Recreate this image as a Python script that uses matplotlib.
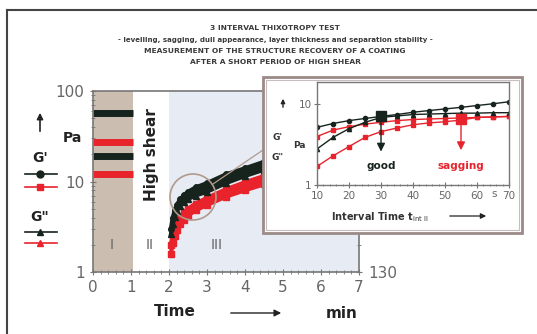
import matplotlib
matplotlib.use("Agg")
import matplotlib.pyplot as plt
from matplotlib.patches import Rectangle, Ellipse, FancyArrowPatch
from matplotlib.lines import Line2D

# ---- data -------------------------------------------------------------------
# interval I (rest): constant levels, Pa
lev_t = [0.0, 1.05]
lev_g1_black = 57
lev_g1_red = 27
lev_g2_black = 19
lev_g2_red = 12

# interval III (recovery), min / Pa
rec_t = [2.05, 2.1, 2.15, 2.2, 2.3, 2.4, 2.5, 2.7, 3.0, 3.5, 4.0, 4.5, 5.0, 6.0, 7.0]
rec_g1_black = [3.0, 4.0, 4.8, 5.5, 6.4, 7.1, 7.7, 8.6, 9.6, 12, 14, 16.5, 18, 20, 22]
rec_g2_black = [2.6, 3.4, 4.1, 4.7, 5.4, 6.0, 6.4, 7.0, 7.7, 9.6, 11.5, 13.5, 15, 17, 18]
rec_g1_red = [2.0, 2.6, 3.1, 3.5, 4.1, 4.6, 5.0, 5.7, 6.6, 8.2, 9.8, 11.5, 12.5, 14, 15]
rec_g2_red = [1.6, 2.1, 2.5, 2.9, 3.4, 3.8, 4.2, 4.8, 5.5, 6.8, 8.0, 9.3, 10.3, 11.5, 12.5]

# inset: G' at the G' = G'' crossover vs interval time
ins_t = [10, 15, 20, 25, 30, 35, 40, 45, 50, 55, 60, 65, 70]
ins_g1_black = [5.2, 5.8, 6.3, 6.7, 7.1, 7.5, 8.0, 8.4, 8.8, 9.2, 9.7, 10.2, 10.8]
ins_g2_black = [2.8, 3.9, 5.0, 6.0, 6.9, 7.2, 7.5, 7.6, 7.7, 7.8, 7.8, 7.9, 7.9]
ins_g1_red = [4.0, 4.8, 5.3, 5.7, 6.0, 6.3, 6.5, 6.6, 6.7, 6.8, 6.9, 7.0, 7.1]
ins_g2_red = [1.7, 2.3, 3.0, 3.9, 4.6, 5.1, 5.6, 5.9, 6.1, 6.4, 6.9, 7.0, 7.1]

BLACK = "#17241d"
RED = "#e8232c"
GREY = "#666666"
SHADE = "#cbbdb0"
BLUE = "#e7ebf4"

fig = plt.figure(figsize=(5.37, 3.34), dpi=100)
fig.patch.set_facecolor("white")

# outer frame (left + top)
fig.add_artist(Line2D([0.013, 0.013], [0, 0.97], color="#444", lw=1.5))
fig.add_artist(Line2D([0.013, 1.0], [0.97, 0.97], color="#444", lw=1.5))

# title block
title_lines = [
    "3 INTERVAL THIXOTROPY TEST",
    "- levelling, sagging, dull appearance, layer thickness and separation stability -",
    "MEASUREMENT OF THE STRUCTURE RECOVERY OF A COATING",
    "AFTER A SHORT PERIOD OF HIGH SHEAR",
]
for txt, yy in zip(title_lines, [28, 40, 51, 62]):
    fig.text(275 / 537, 1 - yy / 334, txt, ha="center", va="center",
             fontsize=5.0 if yy == 40 else 5.4, fontweight="bold", color="#3a3a3a")

# ---- main axes ----------------------------------------------------------------
ax = fig.add_axes([93 / 537, 1 - 272 / 334, 266 / 537, 181 / 334])
ax.set_yscale("log")
ax.set_xlim(0, 7)
ax.set_ylim(1, 100)
ax.axvspan(0, 1.05, color=SHADE, lw=0, zorder=0)
ax.axvspan(2.0, 7, color=BLUE, lw=0, zorder=0)

ax.plot(lev_t, [lev_g1_black] * 2, color=BLACK, lw=5, solid_capstyle="butt")
ax.plot(lev_t, [lev_g1_red] * 2, color=RED, lw=5, solid_capstyle="butt")
ax.plot(lev_t, [lev_g2_black] * 2, color=BLACK, lw=5, solid_capstyle="butt")
ax.plot(lev_t, [lev_g2_red] * 2, color=RED, lw=5, solid_capstyle="butt")

# recovery bands: G' and G'' of one sample run so close that they merge
ax.fill_between(rec_t, rec_g2_red, rec_g1_red, color=RED, lw=0)
ax.plot(rec_t, rec_g1_red, color=RED, lw=3, marker="s", ms=4)
ax.plot(rec_t, rec_g2_red, color=RED, lw=3, marker="s", ms=4)
ax.fill_between(rec_t, rec_g2_black, rec_g1_black, color=BLACK, lw=0)
ax.plot(rec_t, rec_g1_black, color=BLACK, lw=3, marker="o", ms=4)
ax.plot(rec_t, rec_g2_black, color=BLACK, lw=3, marker="^", ms=4)

for s in ax.spines.values():
    s.set_color("#777")
    s.set_linewidth(1.2)
ax.set_xticks(range(8))
ax.set_xticks([i * 0.2 for i in range(36)], minor=True)
ax.set_yticks([1, 10, 100])
ax.set_yticklabels(["1", "10", "100"])
ax.tick_params(which="both", direction="inout", colors="#777", labelcolor=GREY,
               labelsize=11, right=True, length=5)
ax.tick_params(which="minor", length=3)

ax.text(0.5, 2.0, "I", ha="center", va="center", color=GREY, fontsize=10)
ax.text(1.5, 2.0, "II", ha="center", va="center", color=GREY, fontsize=10)
ax.text(3.25, 2.0, "III", ha="center", va="center", color=GREY, fontsize=10)
ax.text(1.55, 20, "High shear", rotation=90, ha="center", va="center",
        fontsize=11, fontweight="bold", color="#222")

# zoom circle and connector
fig.add_artist(Ellipse((193 / 537, 1 - 197 / 334), 46 / 537, 46 / 334,
                       fill=False, ec="#b09a8c", lw=1.2, zorder=0.5))
fig.add_artist(Line2D([213 / 537, 263 / 537], [1 - 184 / 334, 1 - 150 / 334],
                      color="#b09a8c", lw=0.9, zorder=0.5))

# axis titles around the main plot
fig.text(175 / 537, 1 - 312 / 334, "Time", ha="center", va="center",
         fontsize=11, fontweight="bold", color="#222")
fig.add_artist(FancyArrowPatch((228 / 537, 1 - 313 / 334), (284 / 537, 1 - 313 / 334),
                               transform=fig.transFigure, arrowstyle="-|>",
                               mutation_scale=10, color="#222", lw=1))
fig.text(342 / 537, 1 - 313 / 334, "min", ha="center", va="center",
         fontsize=11, fontweight="bold", color="#222")
fig.text(383 / 537, 1 - 274 / 334, "130", ha="center", va="center",
         fontsize=11, color=GREY)

# left legend
fig.add_artist(FancyArrowPatch((40 / 537, 1 - 134 / 334), (40 / 537, 1 - 110 / 334),
                               transform=fig.transFigure, arrowstyle="-|>",
                               mutation_scale=9, color="#222", lw=1.2))
fig.text(72 / 537, 1 - 138 / 334, "Pa", ha="center", va="center",
         fontsize=10, fontweight="bold", color="#222")
fig.text(40 / 537, 1 - 158 / 334, "G'", ha="center", va="center",
         fontsize=10, fontweight="bold", color="#222")
fig.text(40 / 537, 1 - 217 / 334, 'G"', ha="center", va="center",
         fontsize=10, fontweight="bold", color="#222")
for yy, c, m in [(174, BLACK, "o"), (187, RED, "s"), (232, BLACK, "^"), (243, RED, "^")]:
    fig.add_artist(Line2D([25 / 537, 57 / 537], [1 - yy / 334] * 2, color=c, lw=1.2))
    fig.add_artist(Line2D([40 / 537], [1 - yy / 334], color=c, marker=m, ms=5))

# ---- inset ------------------------------------------------------------------
box = Rectangle((263 / 537, 1 - 233 / 334), 259 / 537, 156 / 334,
                transform=fig.transFigure, fc="white", ec="#9a8a88", lw=2, zorder=1)
fig.add_artist(box)
box2 = Rectangle((266 / 537, 1 - 230 / 334), 253 / 537, 150 / 334,
                 transform=fig.transFigure, fill=False, ec="#c9bcbc", lw=0.8, zorder=1.1)
fig.add_artist(box2)

ix = fig.add_axes([317 / 537, 1 - 185 / 334, 192 / 537, 103 / 334], zorder=2)
ix.set_yscale("log")
ix.set_xlim(10, 70)
ix.set_ylim(1, 19)
ix.plot(ins_t, ins_g1_red, color=RED, lw=1, marker="s", ms=3)
ix.plot(ins_t, ins_g2_red, color=RED, lw=1, marker="s", ms=3)
ix.plot(ins_t, ins_g1_black, color=BLACK, lw=1, marker="o", ms=3)
ix.plot(ins_t, ins_g2_black, color=BLACK, lw=1, marker="^", ms=3)
ix.plot([30], [7.1], marker="s", ms=7, color=BLACK)
ix.plot([55], [6.6], marker="s", ms=7, color=RED)
ix.annotate("", xy=(30, 2.4), xytext=(30, 7.0),
            arrowprops=dict(arrowstyle="-|>", color=BLACK, lw=1, mutation_scale=12))
ix.annotate("", xy=(55, 2.5), xytext=(55, 6.4),
            arrowprops=dict(arrowstyle="-|>", color=RED, lw=1, mutation_scale=12))
ix.text(30, 1.7, "good", ha="center", va="center", fontsize=7.5,
        fontweight="bold", color=BLACK)
ix.text(55, 1.7, "sagging", ha="center", va="center", fontsize=7.5,
        fontweight="bold", color=RED)

for s in ix.spines.values():
    s.set_color("#777")
    s.set_linewidth(1)
ix.set_xticks([10, 20, 30, 40, 50, 60, 70])
ix.set_xticklabels(["10", "20", "30", "40", "50", "60", "70"])
ix.set_xticks(range(10, 71, 2), minor=True)
ix.set_yticks([1, 10])
ix.set_yticklabels(["1", "10"])
ix.yaxis.set_minor_locator(matplotlib.ticker.NullLocator())
ix.tick_params(which="both", direction="inout", colors="#777", labelcolor=GREY,
               labelsize=7.5, length=4, pad=2)
ix.tick_params(which="minor", length=2)
ix.text(65.5, 0.88, "s", ha="center", va="top", fontsize=7.5, color=GREY,
        transform=ix.transData, clip_on=False)

fig.text(380 / 537, 1 - 217 / 334, r"Interval Time t$_{\mathrm{int\ II}}$",
         ha="center", va="center", fontsize=7, fontweight="bold", color="#333", zorder=3)
fig.add_artist(FancyArrowPatch((447 / 537, 1 - 216 / 334), (489 / 537, 1 - 216 / 334),
                               transform=fig.transFigure, arrowstyle="-|>",
                               mutation_scale=8, color="#222", lw=0.9, zorder=3))
fig.add_artist(FancyArrowPatch((283 / 537, 1 - 110 / 334), (283 / 537, 1 - 96 / 334),
                               transform=fig.transFigure, arrowstyle="-|>",
                               mutation_scale=6, color="#222", lw=1, zorder=3))
fig.text(278 / 537, 1 - 138 / 334, "G'", ha="center", va="center",
         fontsize=6.5, fontweight="bold", color="#333", zorder=3)
fig.text(299 / 537, 1 - 145 / 334, "Pa", ha="center", va="center",
         fontsize=6.5, fontweight="bold", color="#333", zorder=3)
fig.text(278 / 537, 1 - 157 / 334, 'G"', ha="center", va="center",
         fontsize=6.5, fontweight="bold", color="#333", zorder=3)

fig.savefig("out.png", dpi=100)
